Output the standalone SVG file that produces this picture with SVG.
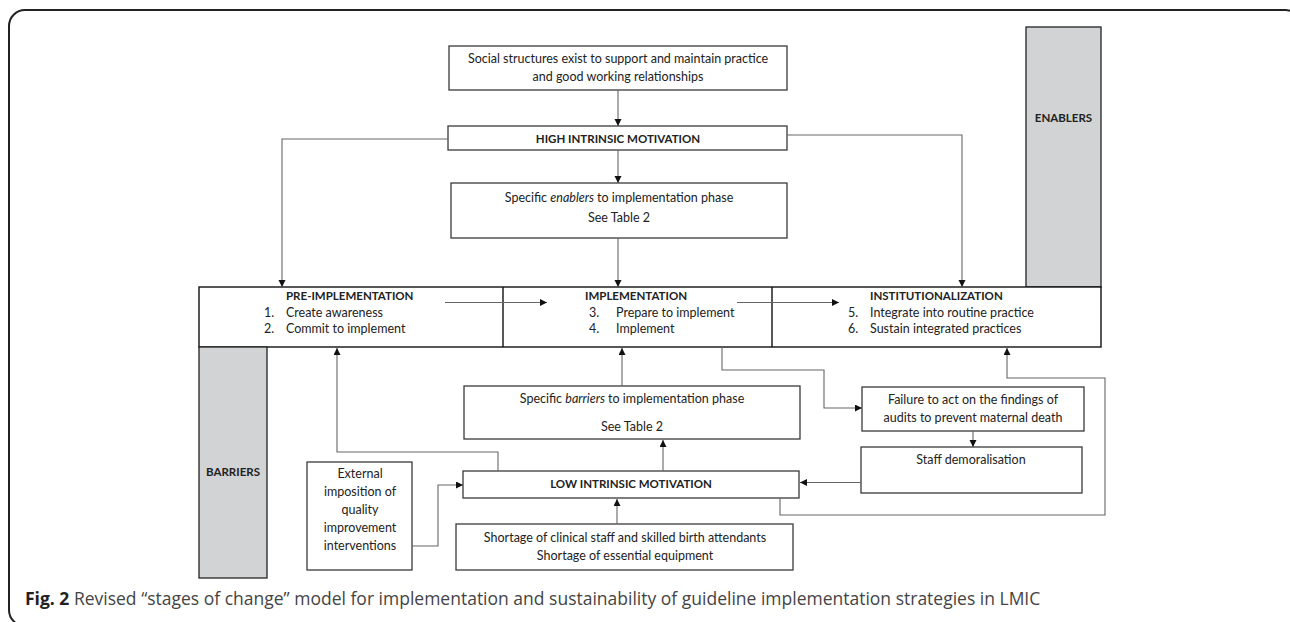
<svg xmlns="http://www.w3.org/2000/svg" width="1290" height="622" viewBox="0 0 1290 622">
<style>
.box{fill:#fff;stroke:#3a3a3a;stroke-width:1.3}
.stage{fill:#fff;stroke:#111;stroke-width:1.4}
.side{fill:#d1d3d4;stroke:#222;stroke-width:1.3}
.t{font-family:Lato,"Liberation Sans",sans-serif;font-size:12.5px;fill:#222}
.c{text-anchor:middle}
.b{font-weight:bold;font-size:11.5px}
.con{fill:none;stroke:#666;stroke-width:1.1}
.cap{font-family:"Open Sans","Liberation Sans",sans-serif;font-size:17.5px;fill:#444}
</style>
<defs>
<marker id="ah" markerUnits="userSpaceOnUse" markerWidth="8" markerHeight="8" refX="7" refY="3.5" orient="auto">
<path d="M0,0 L7,3.5 L0,7 z" fill="#111"/>
</marker>
</defs>
<rect x="9" y="10" width="1292" height="616" rx="16" fill="none" stroke="#222" stroke-width="2"/>

<g id="social">
<rect class="box" x="449" y="46" width="338" height="44"/>
<text class="t c" x="618" y="63">Social structures exist to support and maintain practice</text>
<text class="t c" x="618" y="81">and good working relationships</text>
</g>
<g id="high">
<rect class="box" x="448" y="126" width="339" height="24"/>
<text class="t c b" x="618" y="143">HIGH INTRINSIC MOTIVATION</text>
</g>
<g id="enablers-specific">
<rect class="box" x="451" y="183" width="336" height="55"/>
<text class="t c" x="619" y="202">Specific <tspan font-style="italic">enablers</tspan> to implementation phase</text>
<text class="t c" x="619" y="222">See Table 2</text>
</g>
<g id="enablers">
<rect class="side" x="1026" y="27" width="75" height="260"/>
<text class="t c b" x="1063.5" y="122">ENABLERS</text>
</g>
<g id="stages">
<rect class="stage" x="199" y="287" width="902" height="60"/>
<line x1="503" y1="287" x2="503" y2="347" stroke="#111" stroke-width="1.4"/>
<line x1="772" y1="287" x2="772" y2="347" stroke="#111" stroke-width="1.4"/>
</g>
<g id="pre">
<text class="t b" x="286" y="300">PRE-IMPLEMENTATION</text>
<text class="t" x="264" y="317">1.</text>
<text class="t" x="286" y="317">Create awareness</text>
<text class="t" x="264" y="333">2.</text>
<text class="t" x="286" y="333">Commit to implement</text>
</g>
<g id="impl">
<text class="t b" x="585" y="300">IMPLEMENTATION</text>
<text class="t" x="589" y="317">3.</text>
<text class="t" x="616" y="317">Prepare to implement</text>
<text class="t" x="589" y="333">4.</text>
<text class="t" x="616" y="333">Implement</text>
</g>
<g id="inst">
<text class="t b" x="870" y="300">INSTITUTIONALIZATION</text>
<text class="t" x="848" y="317">5.</text>
<text class="t" x="870" y="317">Integrate into routine practice</text>
<text class="t" x="848" y="333">6.</text>
<text class="t" x="870" y="333">Sustain integrated practices</text>
</g>
<g id="barriers">
<rect class="side" x="199" y="347" width="68" height="231"/>
<text class="t c b" x="233" y="476">BARRIERS</text>
</g>
<g id="barriers-specific">
<rect class="box" x="464" y="386" width="336" height="53"/>
<text class="t c" x="632" y="403">Specific <tspan font-style="italic">barriers</tspan> to implementation phase</text>
<text class="t c" x="632" y="431">See Table 2</text>
</g>
<g id="low">
<rect class="box" x="463" y="471" width="336" height="27"/>
<text class="t c b" x="631" y="488">LOW INTRINSIC MOTIVATION</text>
</g>
<g id="shortage">
<rect class="box" x="456" y="524" width="337" height="46"/>
<text class="t c" x="625" y="542">Shortage of clinical staff and skilled birth attendants</text>
<text class="t c" x="625" y="560">Shortage of essential equipment</text>
</g>
<g id="external">
<rect class="box" x="307" y="462" width="105" height="108"/>
<text class="t c" x="360" y="478">External</text>
<text class="t c" x="360" y="496">imposition of</text>
<text class="t c" x="360" y="514">quality</text>
<text class="t c" x="360" y="532">improvement</text>
<text class="t c" x="360" y="550">interventions</text>
</g>
<g id="failure">
<rect class="box" x="862" y="387" width="222" height="44"/>
<text class="t c" x="973" y="404">Failure to act on the findings of</text>
<text class="t c" x="973" y="422">audits to prevent maternal death</text>
</g>
<g id="staff">
<rect class="box" x="861" y="447" width="221" height="46"/>
<text class="t c" x="971" y="464">Staff demoralisation</text>
</g>

<g id="connectors">
<path class="con" d="M618,90 V126" marker-end="url(#ah)"/>
<path class="con" d="M448,139 H282 V287" marker-end="url(#ah)"/>
<path class="con" d="M787,135 H962 V287" marker-end="url(#ah)"/>
<path class="con" d="M618,150 V183" marker-end="url(#ah)"/>
<path class="con" d="M618,238 V287" marker-end="url(#ah)"/>
<path class="con" d="M445,302.5 H547" marker-end="url(#ah)"/>
<path class="con" d="M737,302.5 H839" marker-end="url(#ah)"/>
<path class="con" d="M498,471 V452 H337 V348" marker-end="url(#ah)"/>
<path class="con" d="M412,546 H438 V485 H463" marker-end="url(#ah)"/>
<path class="con" d="M622,386 V348" marker-end="url(#ah)"/>
<path class="con" d="M663,471 V440" marker-end="url(#ah)"/>
<path class="con" d="M617,524 V499" marker-end="url(#ah)"/>
<path class="con" d="M722,347 V370 H824 V408 H862" marker-end="url(#ah)"/>
<path class="con" d="M973,431 V447" marker-end="url(#ah)"/>
<path class="con" d="M861,482.5 H800" marker-end="url(#ah)"/>
<path class="con" d="M780,498 V515 H1105 V378 H1007 V348" marker-end="url(#ah)"/>
</g>

<g id="caption">
<text class="cap" x="25" y="605"><tspan font-weight="bold" fill="#222">Fig. 2</tspan> Revised “stages of change” model for implementation and sustainability of guideline implementation strategies in LMIC</text>
</g>
</svg>
